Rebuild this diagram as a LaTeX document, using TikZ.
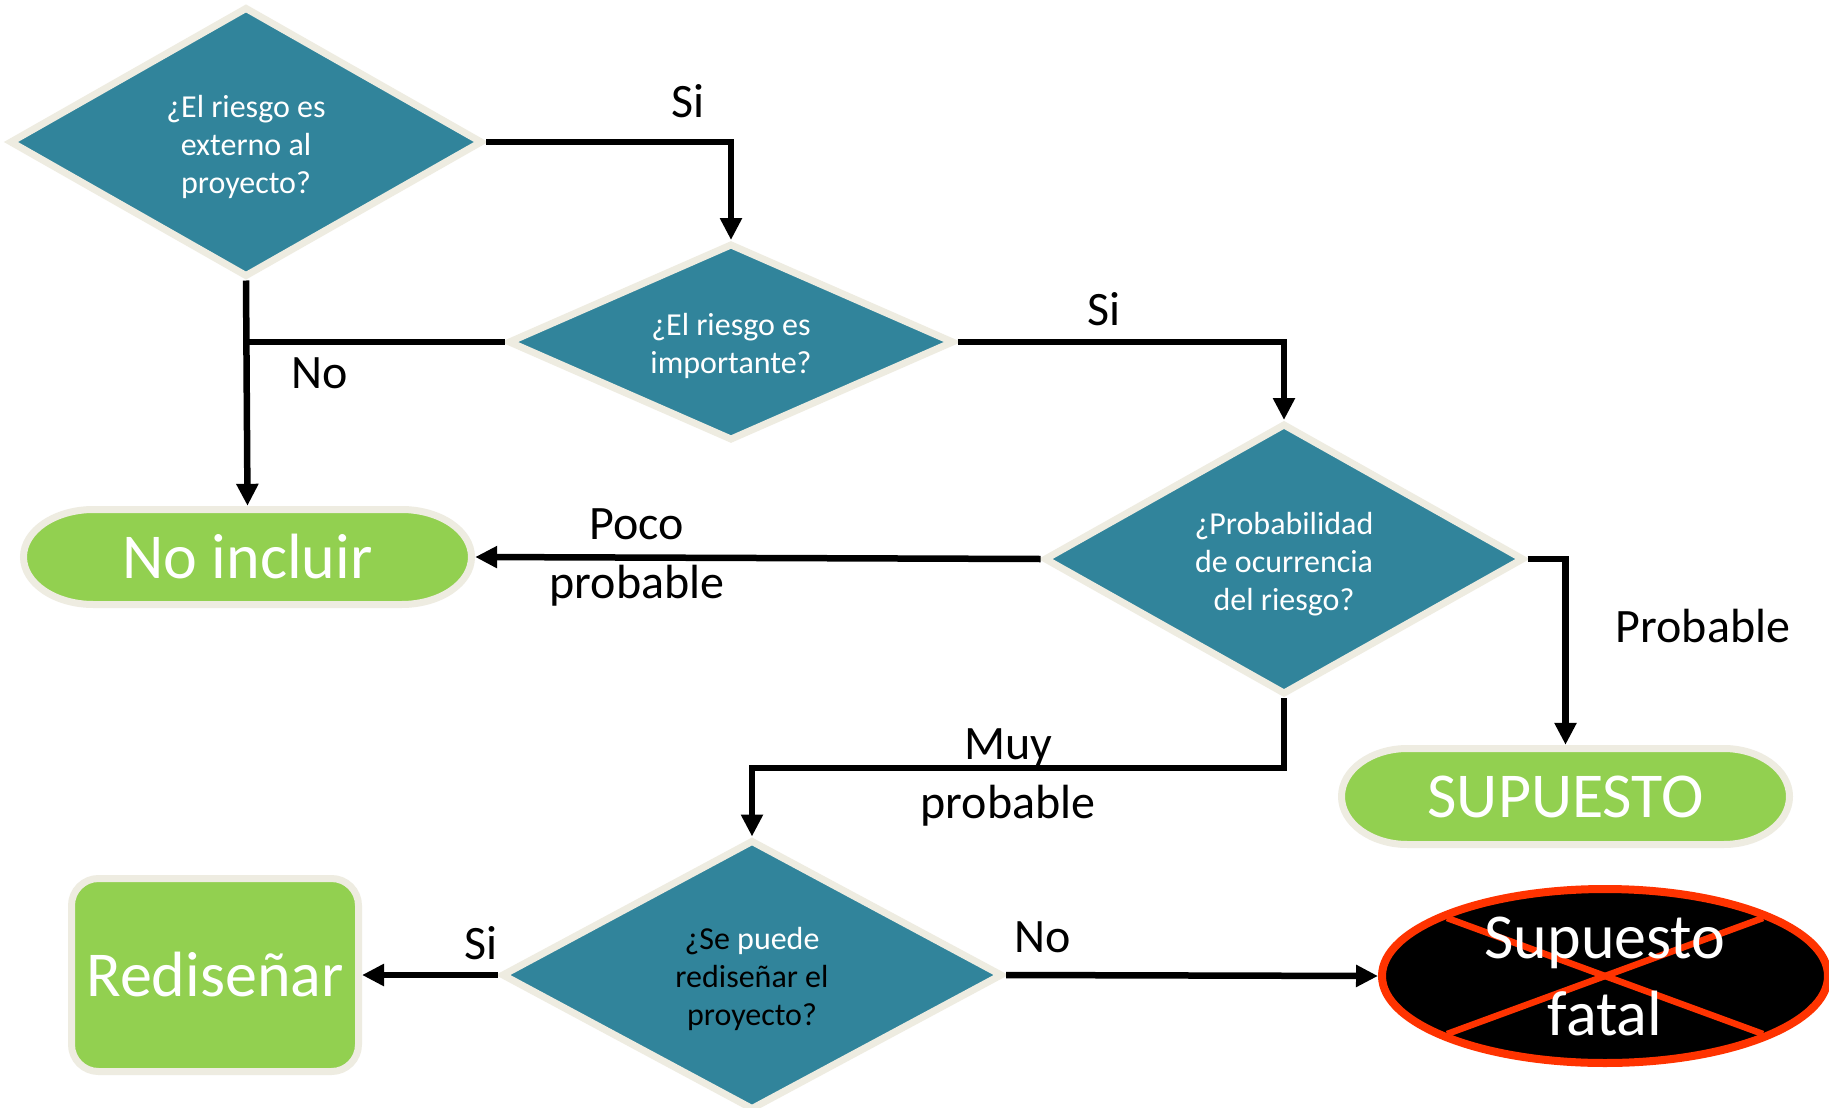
\documentclass[tikz,border=0pt]{standalone}
\usepackage{fontspec}
\setmainfont{Carlito}
\usetikzlibrary{shapes.geometric,arrows.meta,calc}
\definecolor{qteal}{HTML}{31849B}
\definecolor{rim}{HTML}{EEECE1}
\definecolor{leaf}{HTML}{92D050}
\definecolor{alarm}{HTML}{FF3300}

% rounded terminal with elliptic ends: centre x, centre y, half width, half height, end radius
\newcommand\pillshape[5]{%
  \path[pillbg] ({#1-#3+#5},{#2-#4}) -- ({#1+#3-#5},{#2-#4})
    arc[start angle=90,end angle=-90,x radius=#5pt,y radius=#4pt]
    -- ({#1-#3+#5},{#2+#4})
    arc[start angle=270,end angle=90,x radius=#5pt,y radius=#4pt] -- cycle;}

\begin{document}
\begin{tikzpicture}[x=1pt,y=-1pt,
  question/.style={shape=diamond, draw=rim, fill=qteal, line width=7pt, inner sep=0pt},
  qtext/.style={inner sep=0pt, align=center, text=white, font=\fontsize{32}{38}\selectfont},
  pilltext/.style={inner sep=0pt, text=white, font=\fontsize{64}{76}\selectfont},
  pillbg/.style={draw=rim, fill=leaf, line width=7pt},
  flow/.style={line width=6.5pt, -{Triangle[width=21pt,length=22pt]}},
  joint/.style={line width=6.5pt},
  tag/.style={font=\fontsize{48}{59}\selectfont, align=center, inner sep=0pt},
]
\useasboundingbox (0,0) rectangle (1829,1108);
\fill[white] (0,0) rectangle (1829,1108);

% decisions
\node[question, minimum width=473pt, minimum height=270pt] (d1) at (246,142) {};
\node[qtext] (d1t) at ([yshift=-5pt]d1.center) {¿El riesgo es\\externo al\\proyecto?};
\node[question, minimum width=446pt, minimum height=197pt] (d2) at (731,342) {};
\node[qtext] (d2t) at ([yshift=-4pt]d2.center) {¿El riesgo es\\importante?};
\node[question, minimum width=480pt, minimum height=271pt] (d3) at (1284,559) {};
\node[qtext] (d3t) at ([yshift=-5pt]d3.center) {¿Probabilidad\\de ocurrencia\\del riesgo?};
\node[question, minimum width=501pt, minimum height=270pt] (d4) at (752,975) {};
\node[qtext, text=black] (d4t) at ([yshift=-4pt]d4.center)
  {¿Se \textcolor{white}{puede}\\rediseñar el\\proyecto?};

% terminals
\pillshape{247.5}{557}{224}{47.5}{70}
\node[pilltext, minimum width=455pt, minimum height=102pt] (ni) at (247.5,557) {No incluir};
\pillshape{1565.5}{796.5}{224}{48}{66}
\node[pilltext, minimum width=455pt, minimum height=103pt] (sup) at (1565.5,796.5) {SUPUESTO};
\node[pilltext, draw=rim, fill=leaf, line width=7pt, rounded corners=27pt,
  minimum width=287pt, minimum height=193pt] (red) at (215,975) {Rediseñar};

% crossed-out outcome
\node[ellipse, draw=alarm, fill=black, line width=8pt, inner sep=0pt,
  minimum width=446pt, minimum height=174pt] (fatal) at (1605,976) {};
\draw[alarm, line width=6.5pt] ($(fatal.center)+(-158,-58)$) -- ($(fatal.center)+(158,58)$);
\draw[alarm, line width=6.5pt] ($(fatal.center)+(-158,58)$) -- ($(fatal.center)+(158,-58)$);
\node[pilltext, align=center, font=\fontsize{64}{77}\selectfont] (fataltxt) at (fatal.center) {Supuesto\\fatal};

% connectors
\coordinate (elbow) at (752,768);
\draw[flow] (d1.east) -| (d2.north);
\draw[flow] (d1.south) -- (ni.north);
\draw[joint] (d2.west) -- (d2.west -| d1.south);
\draw[flow] (d2.east) -| (d3.north);
\draw[flow] (d3.west) -- (ni.east);
\draw[flow] (d3.east) -| (sup.north);
\draw[flow] (d3.south) |- (elbow) -- (d4.north);
\draw[flow] (d4.west) -- (red.east);
\draw[flow] (d4.east) -- (fatal.west);

% branch labels
\node[tag] (lsi1) at (688,101) {Si};
\node[tag] (lno1) at (320,373) {No};
\node[tag] (lsi2) at (1104,309) {Si};
\node[tag] (lpoco) at (637,557) {Poco\\probable};
\node[tag] (lprob) at (1703,626) {Probable};
\node[tag] (lmuy) at (1008,777) {Muy\\probable};
\node[tag] (lsi3) at (481,943) {Si};
\node[tag] (lno2) at (1043,937) {No};
\end{tikzpicture}
\end{document}
